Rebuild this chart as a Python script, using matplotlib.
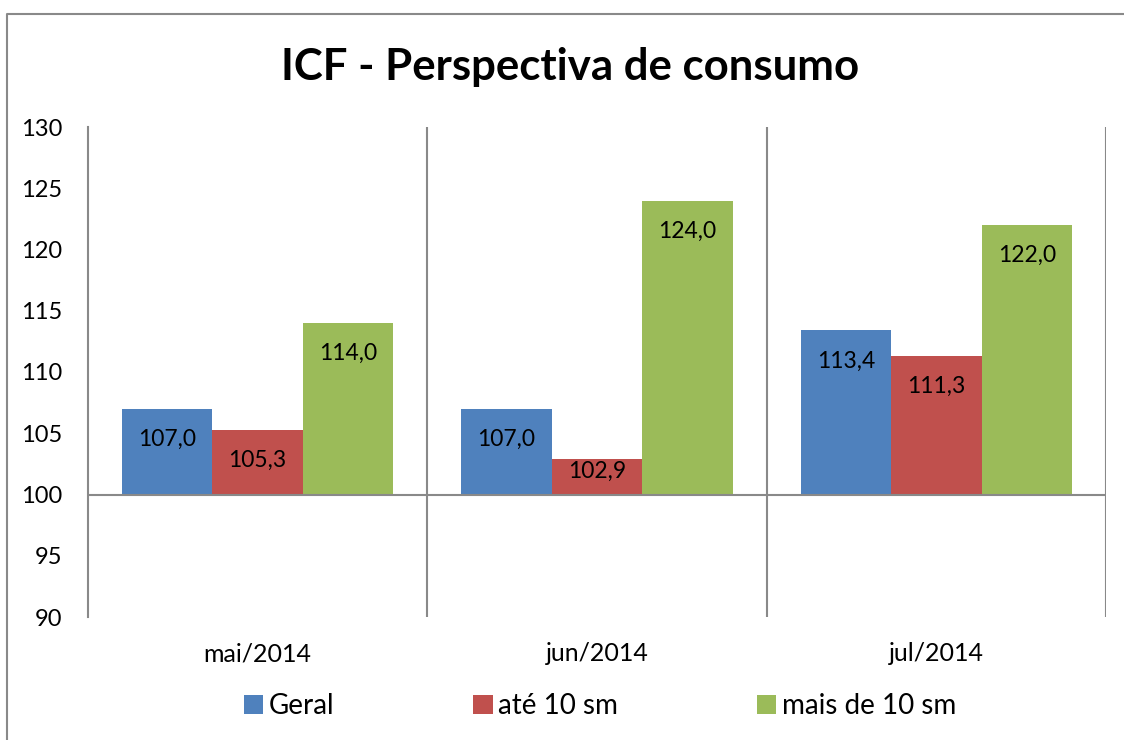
import numpy as np
import matplotlib
matplotlib.use('Agg')
import matplotlib.pyplot as plt
from matplotlib.lines import Line2D
from matplotlib.patches import Patch

plt.rcParams['font.family'] = ['Lato', 'DejaVu Sans']

categories = ['mai/2014', 'jun/2014', 'jul/2014']
series_names = ['Geral', 'até 10 sm', 'mais de 10 sm']
geral = [107.0, 107.0, 113.4]
ate10 = [105.3, 102.9, 111.3]
mais10 = [114.0, 124.0, 122.0]
yticks = [90, 95, 100, 105, 110, 115, 120, 125, 130]

colors = ['#4F81BD', '#C0504D', '#9BBB59']
grid_color = '#898989'
base = 100

W, H = 1124, 740
fig = plt.figure(figsize=(W / 100, H / 100), dpi=100)
ax = fig.add_axes([88 / W, 1 - 617 / H, (1106 - 88) / W, (617 - 127) / H])

ind = np.arange(len(categories))
width = 0.8 / 3
for i, vals in enumerate([geral, ate10, mais10]):
    x = ind + (i - 1) * width
    heights = [v - base for v in vals]
    ax.bar(x, heights, width, bottom=base, color=colors[i], edgecolor='none', zorder=2)
    for xi, v in zip(x, vals):
        ylab = max(v - 2.5, 101.9)
        ax.text(xi, ylab, ('%.1f' % v).replace('.', ','), ha='center', va='center',
                fontsize=16.5, color='black', zorder=3)

ax.set_xlim(-0.5, 2.5)
ax.set_ylim(90, 130)
ax.set_yticks(yticks)
ax.set_yticklabels([str(t) for t in yticks], fontsize=17)
ax.set_xticks(ind)
ax.set_xticklabels(categories, fontsize=18)
ax.tick_params(axis='both', length=0)
ax.tick_params(axis='y', pad=18.5)
ax.tick_params(axis='x', pad=18)

for s in ['top', 'right', 'bottom']:
    ax.spines[s].set_visible(False)
ax.spines['left'].set_color(grid_color)
ax.spines['left'].set_linewidth(1.5)

for xb in [0.5, 1.5, 2.5]:
    ax.axvline(xb, color=grid_color, linewidth=1.5, zorder=1)
ax.axhline(base, color=grid_color, linewidth=1.5, zorder=4)

fig.text(570 / W, 1 - 67 / H, 'ICF - Perspectiva de consumo', ha='center', va='center',
         fontsize=31.5, fontweight='bold')

handles = [Patch(facecolor=c, edgecolor='none') for c in colors]
fig.legend(handles, series_names, loc='center', bbox_to_anchor=(600 / W, 1 - 706 / H),
           ncol=3, frameon=False, fontsize=20, handlelength=0.7, handleheight=0.7,
           handletextpad=0.2, columnspacing=5.0)

# chart border (left and top edges visible)
fig.add_artist(Line2D([7 / W, 7 / W, 1], [0, 1 - 14 / H, 1 - 14 / H],
                      transform=fig.transFigure, color=grid_color, linewidth=1.5))

fig.savefig('out.png', dpi=100)
plt.close(fig)
